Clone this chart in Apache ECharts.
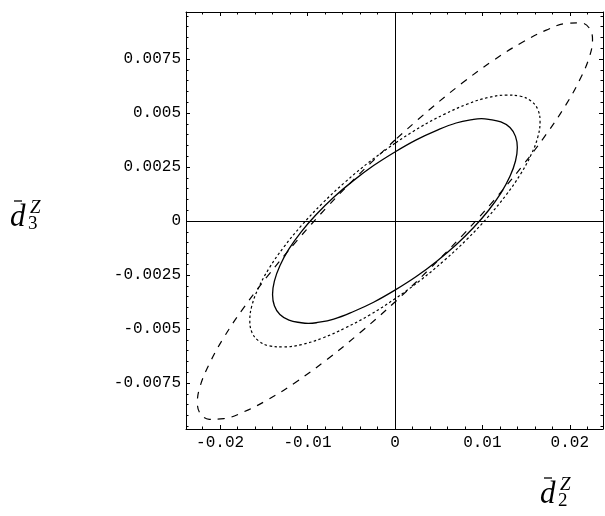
<!DOCTYPE html>
<html>
<head>
<meta charset="utf-8">
<script src="https://cdn.jsdelivr.net/npm/echarts@6/dist/echarts.min.js"></script>
<style>
  html, body { margin: 0; padding: 0; background: #fff; }
  #chart { width: 605px; height: 516px; }
</style>
</head>
<body>
<div id="chart"></div>
<script>
  // tick values + labels
  var xTicks = [-0.02, -0.01, 0, 0.01, 0.02];
  var xTickLabels = ['-0.02', '-0.01', '0', '0.01', '0.02'];
  var xMinorTicks = [-0.022, -0.018, -0.016, -0.014, -0.012, -0.008, -0.006, -0.004, -0.002,
    0.002, 0.004, 0.006, 0.008, 0.012, 0.014, 0.016, 0.018, 0.022];
  var yTicks = [-0.0075, -0.005, -0.0025, 0, 0.0025, 0.005, 0.0075];
  var yTickLabels = ['-0.0075', '-0.005', '-0.0025', '0', '0.0025', '0.005', '0.0075'];
  var yMinorTicks = [-0.0095, -0.009, -0.0085, -0.008, -0.007, -0.0065, -0.006, -0.0055,
    -0.0045, -0.004, -0.0035, -0.003, -0.002, -0.0015, -0.001, -0.0005,
    0.0005, 0.001, 0.0015, 0.002, 0.003, 0.0035, 0.004, 0.0045,
    0.0055, 0.006, 0.0065, 0.007, 0.008, 0.0085, 0.009, 0.0095];

  // contour points [d2, d3]; each loop starts and ends on the y axis
  var solidCurve = [
    [0, 0.0032], [-0.00244, 0.00257], [-0.00479, 0.00186], [-0.0070, 0.0011], [-0.009, 0.0003],
    [-0.01072, -0.0005], [-0.01212, -0.00129], [-0.01316, -0.00207], [-0.01379, -0.00278], [-0.0140, -0.0034],
    [-0.01379, -0.00392], [-0.01316, -0.00433], [-0.01212, -0.00459], [-0.01072, -0.00471], [-0.0099, -0.00474],
    [-0.009, -0.00471], [-0.0070, -0.00454], [-0.00479, -0.0042], [-0.00244, -0.00376], [0, -0.0032],
    [0.00244, -0.00257], [0.00479, -0.00186], [0.0070, -0.0011], [0.009, -0.0003],
    [0.01072, 0.0005], [0.01212, 0.00129], [0.01316, 0.00207], [0.01379, 0.00278], [0.0140, 0.0034],
    [0.01379, 0.00392], [0.01316, 0.00433], [0.01212, 0.00459], [0.01072, 0.00471], [0.0099, 0.00474],
    [0.009, 0.00471], [0.0070, 0.00454], [0.00479, 0.0042], [0.00244, 0.00376], [0, 0.0032]
  ];
  var dottedCurve = [
    [0, 0.0036], [-0.00289, 0.00275], [-0.00568, 0.00181], [-0.0083, 0.00082], [-0.01067, -0.0002],
    [-0.01272, -0.00121], [-0.01438, -0.00218], [-0.0156, -0.00309], [-0.01635, -0.0039], [-0.0166, -0.0046],
    [-0.01635, -0.00516], [-0.0156, -0.00555], [-0.01438, -0.00578], [-0.01272, -0.00583], [-0.01067, -0.00572],
    [-0.0083, -0.00542], [-0.00568, -0.00495], [-0.00289, -0.00435], [0, -0.0036],
    [0.00289, -0.00275], [0.00568, -0.00181], [0.0083, -0.00082], [0.01067, 0.0002],
    [0.01272, 0.00121], [0.01438, 0.00218], [0.0156, 0.00309], [0.01635, 0.0039], [0.0166, 0.0046],
    [0.01635, 0.00516], [0.0156, 0.00555], [0.01438, 0.00578], [0.01272, 0.00583], [0.01067, 0.00572],
    [0.0083, 0.00542], [0.00568, 0.00495], [0.00289, 0.00435], [0, 0.0036]
  ];
  var dashedCurve = [
    [0, 0.00375], [-0.00393, 0.00223], [-0.00773, 0.00066], [-0.0113, -0.00095], [-0.01453, -0.00253],
    [-0.01731, -0.00402], [-0.01957, -0.00539], [-0.02124, -0.00662], [-0.02226, -0.00762], [-0.0226, -0.0084],
    [-0.02226, -0.00892], [-0.02124, -0.00918], [-0.01957, -0.00915], [-0.01731, -0.00884], [-0.01453, -0.00827],
    [-0.0113, -0.00745], [-0.00773, -0.0064], [-0.00393, -0.00515], [0, -0.00375],
    [0.00393, -0.00223], [0.00773, -0.00066], [0.0113, 0.00095], [0.01453, 0.00253],
    [0.01731, 0.00402], [0.01957, 0.00539], [0.02124, 0.00662], [0.02226, 0.00762], [0.0226, 0.0084],
    [0.02226, 0.00892], [0.02124, 0.00918], [0.01957, 0.00915], [0.01731, 0.00884], [0.01453, 0.00827],
    [0.0113, 0.00745], [0.00773, 0.0064], [0.00393, 0.00515], [0, 0.00375]
  ];

  var xMin = -0.0239, xMax = 0.0238;
  var yMin = -0.00963, yMax = 0.00968;
  var monoFont = '"Liberation Mono", "DejaVu Sans Mono", monospace';

  function pickLabel(values, labels) {
    return function (v) {
      for (var i = 0; i < values.length; i++) {
        if (Math.abs(values[i] - v) < 1e-9) return labels[i];
      }
      return '';
    };
  }

  // 4 x axes + 4 y axes: major/minor ticks on every side of the frame
  function makeX(pos, major, withLabel) {
    return {
      type: 'value', position: pos, min: xMin, max: xMax, gridIndex: 0,
      axisLine: { show: major, onZero: false, lineStyle: { color: '#000', width: 1 } },
      axisTick: { show: true, inside: true, length: major ? 4 : 2.5,
        customValues: major ? xTicks : xMinorTicks, lineStyle: { color: '#000', width: 1 } },
      axisLabel: { show: withLabel, customValues: xTicks, formatter: pickLabel(xTicks, xTickLabels),
        color: '#000', fontFamily: monoFont, fontSize: 16, margin: 6 },
      splitLine: { show: false }
    };
  }
  function makeY(pos, major, withLabel) {
    return {
      type: 'value', position: pos, min: yMin, max: yMax, gridIndex: 0,
      axisLine: { show: major, onZero: false, lineStyle: { color: '#000', width: 1 } },
      axisTick: { show: true, inside: true, length: major ? 4 : 2.5,
        customValues: major ? yTicks : yMinorTicks, lineStyle: { color: '#000', width: 1 } },
      axisLabel: { show: withLabel, customValues: yTicks, formatter: pickLabel(yTicks, yTickLabels),
        color: '#000', fontFamily: monoFont, fontSize: 16, margin: 5 },
      splitLine: { show: false }
    };
  }

  var chart = echarts.init(document.getElementById('chart'));
  var serifItalic = 'italic 31px "Liberation Serif", "DejaVu Serif", serif';
  var serifSmall = 'italic 19px "Liberation Serif", "DejaVu Serif", serif';
  var serifDigit = '19px "Liberation Serif", "DejaVu Serif", serif';

  // d-bar with sup Z and sub k, placed as a group
  function axisName(left, top, sub) {
    return {
      type: 'group', left: left, top: top,
      children: [
        { type: 'text', x: 0, y: 17, style: { text: 'd', font: serifItalic, fill: '#000', verticalAlign: 'middle' } },
        { type: 'line', shape: { x1: 4, y1: 0.5, x2: 12, y2: 0.5 }, style: { stroke: '#000', lineWidth: 1.3 } },
        { type: 'text', x: 20, y: 7, style: { text: 'Z', font: serifSmall, fill: '#000', verticalAlign: 'middle' } },
        { type: 'text', x: 18, y: 24, style: { text: sub, font: serifDigit, fill: '#000', verticalAlign: 'middle' } }
      ]
    };
  }

  var option = {
    animation: false,
    backgroundColor: '#fff',
    grid: { left: 186, right: 2, top: 12, bottom: 87, outerBoundsMode: 'none' },
    xAxis: [makeX('bottom', true, true), makeX('bottom', false, false), makeX('top', true, false), makeX('top', false, false)],
    yAxis: [makeY('left', true, true), makeY('left', false, false), makeY('right', true, false), makeY('right', false, false)],
    graphic: [axisName(10, 198, '3'), axisName(540, 475, '2')],
    series: [
      {
        name: 'solid', type: 'line', data: solidCurve, showSymbol: false, smooth: 0.4,
        lineStyle: { color: '#000', width: 1.3, type: 'solid' },
        markLine: {
          silent: true, symbol: ['none', 'none'], label: { show: false },
          lineStyle: { color: '#000', width: 1, type: 'solid' },
          data: [{ xAxis: 0 }, { yAxis: 0 }]
        }
      },
      {
        name: 'dotted', type: 'line', data: dottedCurve, showSymbol: false, smooth: 0.4,
        lineStyle: { color: '#000', width: 1.2, type: [2.5, 2.5] }
      },
      {
        name: 'dashed', type: 'line', data: dashedCurve, showSymbol: false, smooth: 0.4,
        lineStyle: { color: '#000', width: 1.2, type: [7, 7] }
      }
    ]
  };
  chart.setOption(option);
</script>
</body>
</html>
